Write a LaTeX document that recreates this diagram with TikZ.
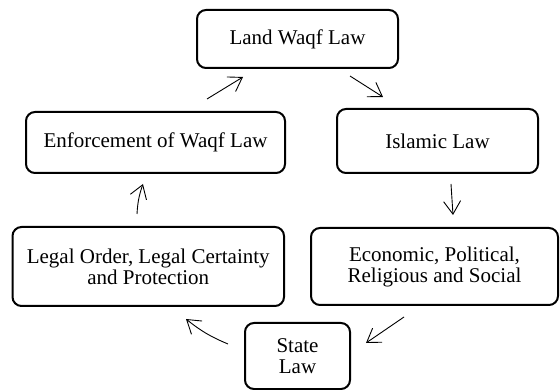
\documentclass[tikz,border=0pt]{standalone}
\usepackage{fontspec}
\setmainfont{Liberation Serif}
\usetikzlibrary{arrows.meta}
\tikzset{
	lawbox/.style={draw, rounded corners=9pt, line width=2pt, align=center, inner sep=0pt, font=\fontsize{21}{21}\selectfont},
	flow/.style={line width=0.9pt, -{Straight Barb[length=13pt,width=17pt,line width=0.9pt]}}
}
\begin{document}
\begin{tikzpicture}[x=1pt,y=1pt,yscale=-1,xscale=1]
	\useasboundingbox (0,0) rectangle (560,390);

	\node [lawbox, minimum width=201pt, minimum height=58pt] (land) at (297.5,39) {Land Waqf Law};
	\node [lawbox, minimum width=259pt, minimum height=61pt] (enf) at (155.5,142.5) {Enforcement of Waqf Law};
	\node [lawbox, minimum width=201pt, minimum height=64pt] (isl) at (437.5,141) {Islamic Law};
	\node [lawbox, minimum width=271.5pt, minimum height=79pt] (legal) at (148.25,266.5) {Legal Order, Legal Certainty\\and Protection};
	\node [lawbox, minimum width=247pt, minimum height=77pt] (eco) at (434.5,266.5) {Economic, Political,\\Religious and Social};
	\node [lawbox, minimum width=105pt, minimum height=66pt] (state) at (297.5,356) {State\\Law};

	\draw [flow] ([shift={(51.5,-12)}]enf.north) -- ([shift={(-54.5,8)}]land.south);
	\draw [flow] ([shift={(52.5,7)}]land.south) -- ([shift={(-54.5,-11)}]isl.north);
	\draw [flow] ([shift={(13.5,10)}]isl.south) -- ([shift={(18.5,-12)}]eco.north);
	\draw [flow] ([shift={(-30.5,11)}]eco.south) -- ([shift={(15,-13)}]state.east);
	\draw [flow] ([shift={(-16,-12)}]state.west) to [bend right=8] ([shift={(37.75,12)}]legal.south);
	\draw [flow] ([shift={(-11.25,-12)}]legal.north) to [bend right=8] ([shift={(-12.5,10)}]enf.south);
\end{tikzpicture}
\end{document}
